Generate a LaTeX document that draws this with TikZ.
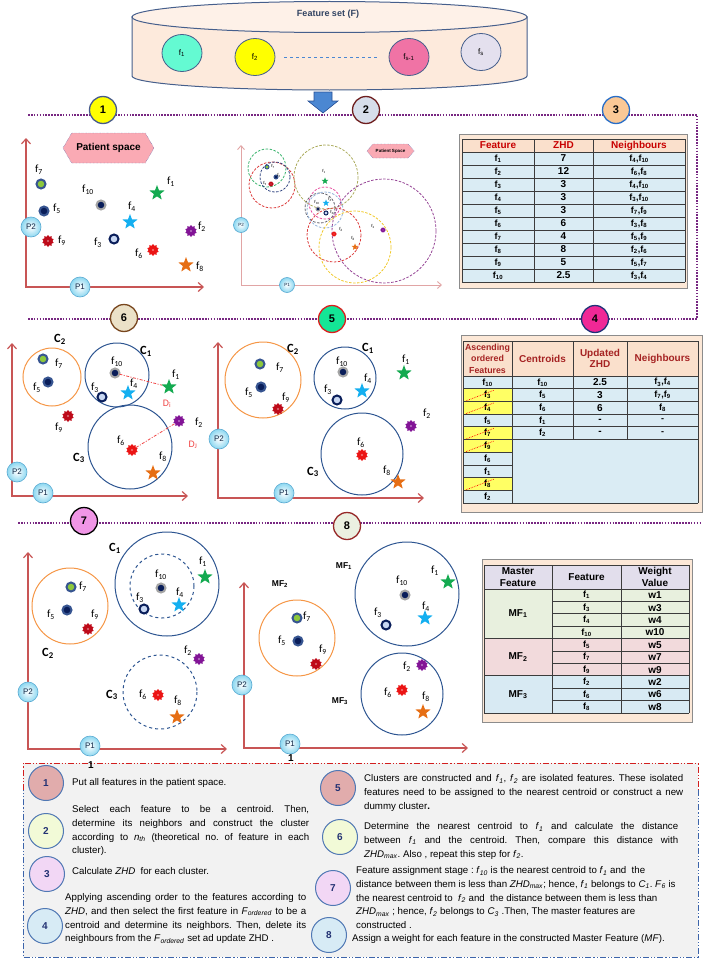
\documentclass[tikz,border=0pt]{standalone}
\usepackage{fontspec}
\setmainfont{Liberation Sans}
\newfontfamily\carlito{Carlito}
\usetikzlibrary{arrows.meta, shapes.geometric, shapes.symbols}
\frenchspacing

\definecolor{dotPurple}{RGB}{120,40,130}
\definecolor{cylFill}{RGB}{253,234,220}
\definecolor{cylTop}{RGB}{254,241,232}
\definecolor{cylLine}{RGB}{70,95,140}
\definecolor{fOne}{RGB}{100,250,210}
\definecolor{fTwo}{RGB}{255,255,0}
\definecolor{fSm}{RGB}{240,115,165}
\definecolor{fS}{RGB}{228,224,238}
\definecolor{arrowBlue}{RGB}{75,135,210}
\definecolor{arrowEdge}{RGB}{40,80,150}
\definecolor{axisRed}{RGB}{200,85,85}
\definecolor{axisPink}{RGB}{225,165,165}
\definecolor{bubCyan}{RGB}{140,215,240}
\definecolor{bubEdge}{RGB}{90,170,210}
\definecolor{bubText}{RGB}{20,40,70}
\definecolor{hexPink}{RGB}{250,170,180}
\definecolor{hexEdge}{RGB}{60,80,160}
\definecolor{ringBlue}{RGB}{55,85,145}
\definecolor{navyDot}{RGB}{10,30,90}
\definecolor{limeFill}{RGB}{140,200,60}
\definecolor{grayRing}{RGB}{165,165,165}
\definecolor{paleBlue}{RGB}{200,215,242}
\definecolor{starGreen}{RGB}{20,170,80}
\definecolor{starSky}{RGB}{20,175,240}
\definecolor{starOrange}{RGB}{230,110,20}
\definecolor{gearRed}{RGB}{235,20,20}
\definecolor{gearDark}{RGB}{190,10,25}
\definecolor{gearPurple}{RGB}{130,20,150}
\definecolor{clOrange}{RGB}{245,150,70}
\definecolor{clBlue}{RGB}{45,85,145}
\definecolor{distRed}{RGB}{240,70,70}
\definecolor{tabPeach}{RGB}{252,232,215}
\definecolor{tabHead}{RGB}{250,224,204}
\definecolor{tabBlue}{RGB}{218,236,244}
\definecolor{tabBorder}{RGB}{140,140,140}
\definecolor{tabLine}{RGB}{60,60,60}
\definecolor{tabRed}{RGB}{200,0,0}
\definecolor{tabDark}{RGB}{165,35,35}
\definecolor{tabYellow}{RGB}{255,255,100}
\definecolor{mfHead}{RGB}{226,222,236}
\definecolor{mfOne}{RGB}{232,240,222}
\definecolor{mfTwo}{RGB}{242,218,220}
\definecolor{mfThree}{RGB}{216,234,243}
\definecolor{legGray}{RGB}{242,242,242}
\definecolor{legRed}{RGB}{210,30,30}
\definecolor{legBlue}{RGB}{60,100,170}
\definecolor{legEdge}{RGB}{80,120,180}
\definecolor{legNum}{RGB}{35,50,115}
\definecolor{legA}{RGB}{225,172,172}
\definecolor{legB}{RGB}{242,250,215}
\definecolor{legC}{RGB}{242,215,245}
\definecolor{legD}{RGB}{215,235,245}
\definecolor{dGreen}{RGB}{60,180,110}
\definecolor{dRed}{RGB}{220,60,60}
\definecolor{dNavy}{RGB}{50,70,130}
\definecolor{dOlive}{RGB}{170,170,90}
\definecolor{dPink}{RGB}{230,80,160}
\definecolor{dGray}{RGB}{100,100,110}
\definecolor{dSky}{RGB}{150,180,220}
\definecolor{dYellow}{RGB}{240,200,40}
\definecolor{dPurple}{RGB}{150,70,150}
\definecolor{sOne}{RGB}{255,255,0}
\definecolor{sOneE}{RGB}{70,90,140}
\definecolor{sTwo}{RGB}{215,222,235}
\definecolor{sTwoE}{RGB}{110,30,30}
\definecolor{sThree}{RGB}{250,200,150}
\definecolor{sThreeE}{RGB}{40,110,200}
\definecolor{sFour}{RGB}{240,40,150}
\definecolor{sFourE}{RGB}{30,50,120}
\definecolor{sFive}{RGB}{20,230,150}
\definecolor{sFiveE}{RGB}{220,30,30}
\definecolor{sSix}{RGB}{235,225,200}
\definecolor{sSixE}{RGB}{120,70,30}
\definecolor{sSeven}{RGB}{240,150,230}
\definecolor{sEight}{RGB}{235,240,225}
\definecolor{sEightE}{RGB}{150,40,40}

\newcommand{\fsub}[1]{f\textsubscript{#1}}
\newcommand{\itsub}[2]{\textit{#1}\textsubscript{\textit{#2}}}
\def\mkf{1}

\begin{document}
\begin{tikzpicture}[x=1pt, y=-1pt,
    sepline/.style={dotPurple, line width=1.6pt, dash pattern=on 1.6pt off 1.3pt},
    stepnum/.style={circle, draw, line width=1.3pt, minimum size=27pt, inner sep=0pt,
                    font=\bfseries\fontsize{11}{11}\selectfont},
    fcirc/.style={ellipse, draw=cylLine, line width=0.8pt, minimum width=40pt,
                  minimum height=37pt, inner sep=0pt, font=\fontsize{8}{8}\selectfont},
    axisline/.style={axisRed, line width=1.2pt},
    axislight/.style={axisPink, line width=0.9pt},
    pball/.style={circle, draw=bubEdge, line width=0.6pt, inner color=white,
                  outer color=bubCyan, minimum size=20pt, inner sep=0pt,
                  font=\fontsize{8}{8}\selectfont, text=bubText},
    pballsm/.style={pball, minimum size=15pt, font=\fontsize{4.5}{5}\selectfont},
    hexbox/.style={signal, signal to=west and east, draw=hexEdge, densely dotted,
                   fill=hexPink, inner sep=0pt, font=\bfseries\fontsize{10}{10}\selectfont},
    feat/.style={inner sep=0pt, outer sep=0pt},
    ringmk/.style={feat, circle, minimum size=\mkf*9pt, line width=\mkf*2pt},
    starmk/.style={feat, star, star points=5, star point ratio=2.4, minimum size=\mkf*16pt},
    gearmk/.style={feat, star, star points=10, star point ratio=1.35, minimum size=\mkf*12pt,
                   path picture={\fill[white, opacity=0.45] (path picture bounding box.center)
                   circle[radius=\mkf*1.2pt];}},
    feat1/.style={starmk, fill=starGreen},
    feat2/.style={gearmk, fill=gearPurple},
    feat3/.style={ringmk, draw=navyDot, fill=paleBlue},
    feat4/.style={starmk, fill=starSky},
    feat5/.style={ringmk, draw=ringBlue, fill=navyDot},
    feat6/.style={gearmk, fill=gearRed},
    feat7/.style={ringmk, draw=ringBlue, fill=limeFill},
    feat8/.style={starmk, fill=starOrange},
    feat9/.style={gearmk, fill=gearDark},
    feat10/.style={ringmk, draw=grayRing, fill=navyDot},
    flab/.style={font=\carlito\fontsize{11}{12}\selectfont, inner sep=0pt},
    tinylab/.style={font=\carlito\fontsize{4.5}{5}\selectfont, inner sep=0pt},
    clab/.style={font=\carlito\bfseries\fontsize{12.5}{13}\selectfont, inner sep=0pt},
    mflab/.style={font=\bfseries\fontsize{8.5}{9}\selectfont, inner sep=0pt},
    dlab/.style={font=\carlito\fontsize{10}{10}\selectfont, text=distRed, inner sep=0pt},
    corange/.style={draw=clOrange, line width=1pt},
    cblue/.style={draw=clBlue, line width=1pt},
    cbluedash/.style={cblue, dashed},
    distline/.style={distRed, line width=0.8pt, dash pattern=on 3pt off 1.5pt on 1pt off 1.5pt},
    thead/.style={font=\bfseries\fontsize{10}{11.5}\selectfont, text=tabRed, align=center, inner sep=0pt},
    tcell/.style={font=\bfseries\fontsize{9}{10}\selectfont, inner sep=0pt},
    rowline/.style={tabLine, line width=0.8pt},
    strike/.style={red, line width=0.7pt, densely dotted},
    legnum/.style={circle, draw=legEdge, line width=1pt, minimum size=35pt, inner sep=0pt,
                   font=\bfseries\fontsize{10}{10}\selectfont, text=legNum},
    legtext/.style={anchor=north west, inner sep=0pt, font=\fontsize{9.7}{13.7}\selectfont}
  ]
  \useasboundingbox (0,0) rectangle (709,958);

  % feature set cylinder
  \filldraw[fill=cylFill, draw=cylLine, line width=1pt] (132,17) -- (132,76)
    arc[start angle=180, end angle=0, x radius=197.5, y radius=14] -- (527,17) -- cycle;
  \filldraw[fill=cylTop, draw=cylLine, line width=1pt] (329.5,17) ellipse[x radius=197.5, y radius=15.5];
  \node[font=\bfseries\fontsize{9}{9}\selectfont, text=cylLine!70!black] (fset) at (328,14) {Feature set (F)};
  \node[fcirc, fill=fOne] (fone) at (182,53) {\fsub{1}};
  \node[fcirc, fill=fTwo] (ftwo) at (255,57) {\fsub{2}};
  \node[fcirc, fill=fSm] (fsm) at (409,57) {\fsub{s-1}};
  \node[fcirc, fill=fS] (fs) at (481,52) {\fsub{s}};
  \draw[arrowBlue, dashed, line width=0.9pt, shorten <=9pt, shorten >=12pt] (ftwo) -- (fsm);
  \filldraw[fill=arrowBlue, draw=arrowEdge, line width=0.6pt] (314,92) -- (332,92) -- (332,101)
    -- (338,101) -- (323,113) -- (308,101) -- (314,101) -- cycle;

  % separators
  \draw[sepline] (28,115) -- (697,115) -- (697,318);
  \draw[sepline] (28,319) -- (697,319);
  \draw[sepline] (18,523) -- (700,523);
  \node[stepnum, fill=sOne, draw=sOneE] (sa) at (103,110) {1};
  \node[stepnum, fill=sTwo, draw=sTwoE] (sb) at (366,110) {2};
  \node[stepnum, fill=sThree, draw=sThreeE] (sc) at (616,110) {3};
  \node[stepnum, fill=sFour, draw=sFourE] (sd) at (595,319) {4};
  \node[stepnum, fill=sFive, draw=sFiveE] (se) at (332,319) {5};
  \node[stepnum, fill=sSix, draw=sSixE] (sf) at (124,318) {6};
  \node[stepnum, fill=sSeven, draw=black] (sg) at (84,521) {7};
  \node[stepnum, fill=sEight, draw=sEightE] (sh) at (347,526) {8};

  % panel 1: patient space
  \draw[axisline, {Straight Barb[length=5pt, width=9pt]}-{Straight Barb[length=5pt, width=9pt]}]
    (26,138) -- (26,287) -- (204,287);
  \node[pball] (pa2) at (31,227) {P2};
  \node[pball] (pa1) at (80,287) {P1};
  \node[hexbox, minimum width=91pt, minimum height=30pt, signal pointer angle=120] (hexa) at (108.5,148) {Patient space};
  \foreach \k/\x/\y/\lx/\ly in {1/157/193/171/182, 2/191/231/202/227, 3/114/239/98/243,
      4/130/222/132/207, 5/44/211/57/209, 6/153/250/139/254, 7/41/184/39/170,
      8/186/265/200/267, 9/48/241/62/241, 10/101/205/88/190}{
    \node[feat\k] (pa\k) at (\x,\y) {};
    \node[flab] (pal\k) at (\lx,\ly) {\fsub{\k}};
  }

  % panel 2: clusters per centroid
  \draw[axislight, {Straight Barb[length=4pt, width=7pt]}-{Straight Barb[length=4pt, width=7pt]}]
    (241,145) -- (241,285) -- (442,285);
  \node[pballsm] (pb2) at (241,225) {P2};
  \node[pballsm] (pb1) at (287,285) {P1};
  \node[hexbox, minimum width=47pt, minimum height=14pt, signal pointer angle=100,
        font=\bfseries\fontsize{4.5}{5}\selectfont] (hexb) at (390.5,151) {Patient Space};
  \foreach \cx/\cy/\r/\c in {267/168/19/dGreen, 272/185/23/dRed, 275/177/15/dNavy,
      326/177/32/dOlive, 325/203/16/dPink, 320/208/15/dGray, 325/210/18/dSky,
      334/235/27/dRed, 355/247/36/dYellow, 384/231/52/dPurple}
    \draw[draw=\c, line width=0.8pt, dash pattern=on 2.5pt off 1.5pt] (\cx,\cy) circle[radius=\r];
  \begin{scope}
    \def\mkf{0.45}
    \foreach \k/\x/\y/\lx/\ly in {1/325/181/324/171, 2/383/230/373/226, 3/326/213/332/212,
        4/326/203/330/199, 5/276/177/279/175, 6/334/234/341/229, 7/267/167/273/166,
        8/355/247/353/238, 9/271/184/265/183, 10/318/209/317/202}{
      \node[feat\k] (pb\k) at (\x,\y) {};
      \node[tinylab] (pbl\k) at (\lx,\ly) {\fsub{\k}};
    }
  \end{scope}

  % panel 3: ZHD table
  \filldraw[fill=tabPeach, draw=tabBorder, line width=0.8pt] (459,134) rectangle (687,288);
  \fill[tabHead] (462,139) rectangle (685,152);
  \fill[tabBlue] (462,152) rectangle (685,282);
  \foreach \r in {0,...,10}
    \draw[rowline] (462,{152+13*\r}) -- (685,{152+13*\r});
  \draw[rowline] (462,139) -- (685,139);
  \foreach \cx in {462,534,593,685}
    \draw[rowline] (\cx,139) -- (\cx,282);
  \node[thead] (tha) at (498,145.5) {Feature};
  \node[thead] (thb) at (563.5,145.5) {ZHD};
  \node[thead] (thc) at (639,145.5) {Neighbours};
  \foreach \i/\z/\na/\nb in {1/7/4/10, 2/12/6/8, 3/3/4/10, 4/3/3/10, 5/3/7/9, 6/6/3/8,
      7/4/5/9, 8/8/2/6, 9/5/5/7, 10/2.5/3/4}{
    \node[tcell] (tfa\i) at (498,{145.5+13*\i}) {\fsub{\i}};
    \node[tcell, font=\bfseries\fontsize{10}{10}\selectfont] (tfb\i) at (563.5,{145.5+13*\i}) {\z};
    \node[tcell] (tfc\i) at (639,{145.5+13*\i}) {\fsub{\na},\fsub{\nb}};
  }

  % panel 6: distances of isolated features
  \draw[axisline, {Straight Barb[length=5pt, width=9pt]}-{Straight Barb[length=5pt, width=9pt]}]
    (12,343) -- (12,496) -- (188,496);
  \node[pball] (pf2) at (17,472) {P2};
  \node[pball] (pf1) at (43,493) {P1};
  \draw[corange] (52,377) circle[radius=29];
  \draw[cblue] (117,375) circle[radius=32];
  \draw[cblue] (130,447) circle[radius=42];
  \node[clab] (cfb) at (60,339) {C\textsubscript{2}};
  \node[clab] (cfa) at (146,351) {C\textsubscript{1}};
  \node[clab] (cfc) at (79,458) {C\textsubscript{3}};
  \foreach \k/\x/\y/\lx/\ly in {1/169/387/176/375, 2/179/421/199/423, 3/102/397/95/388,
      4/128/393/134/384, 5/48/382/37/388, 6/132/450/121/441, 7/43/359/59/364,
      8/153/473/163/457, 9/68/416/59/428, 10/115/373/117/362}{
    \node[feat\k] (pf\k) at (\x,\y) {};
    \node[flab] (pfl\k) at (\lx,\ly) {\fsub{\k}};
  }
  \draw[distline] (pf10) -- (pf1);
  \draw[distline] (pf6) -- (pf2);
  \node[dlab] (dfi) at (167,404) {D\textsubscript{i}};
  \node[dlab] (dfj) at (193,445) {D\textsubscript{J}};

  % panel 5: constructed clusters
  \draw[axisline, {Straight Barb[length=5pt, width=9pt]}-{Straight Barb[length=5pt, width=9pt]}]
    (218,342) -- (218,498) -- (424,498);
  \node[pball] (pe2) at (219,439) {P2};
  \node[pball] (pe1) at (284,493) {P1};
  \draw[corange] (263,380) circle[radius=38];
  \draw[cblue] (345,378) circle[radius=31];
  \draw[cblue] (362,454) circle[radius=41];
  \node[clab] (ceb) at (293,349) {C\textsubscript{2}};
  \node[clab] (cea) at (368,348) {C\textsubscript{1}};
  \node[clab] (cec) at (313,472) {C\textsubscript{3}};
  \foreach \k/\x/\y/\lx/\ly in {1/404/373/406/360, 2/411/426/427/414, 3/337/400/328/390,
      4/362/391/368/379, 5/261/387/249/393, 6/362/455/361/443, 7/260/364/280/368,
      8/398/482/387/471, 9/278/409/286/398, 10/343/372/342/362}{
    \node[feat\k] (pe\k) at (\x,\y) {};
    \node[flab] (pel\k) at (\lx,\ly) {\fsub{\k}};
  }

  % panel 4: ordered features table
  \filldraw[fill=tabPeach, draw=tabBorder, line width=0.8pt] (461,335) rectangle (702,512);
  \fill[tabHead] (463,341) rectangle (698,376);
  \fill[tabBlue] (463,376) rectangle (698,503);
  \foreach \r in {2,3,5,6,9}{
    \fill[tabYellow] (463,{376+12.7*(\r-1)}) rectangle (512,{376+12.7*\r});
  }
  \foreach \r in {0,...,10}
    \draw[rowline] (463,{376+12.7*\r}) -- (512,{376+12.7*\r});
  \foreach \r in {0,...,5}
    \draw[rowline] (512,{376+12.7*\r}) -- (698,{376+12.7*\r});
  \draw[rowline] (463,341) -- (698,341);
  \draw[rowline] (512,503) -- (698,503);
  \foreach \cx in {463,512,698}
    \draw[rowline] (\cx,341) -- (\cx,503);
  \foreach \cx in {573,627}
    \draw[rowline] (\cx,341) -- (\cx,439.5);
  \node[thead, text=tabDark, font=\bfseries\fontsize{8.8}{11.5}\selectfont] (tga) at (487.5,358.5) {Ascending\\ordered\\Features};
  \node[thead, text=tabDark] (tgb) at (542.5,358.5) {Centroids};
  \node[thead, text=tabDark] (tgc) at (600,358.5) {Updated\\ZHD};
  \node[thead, text=tabDark] (tgd) at (662.5,358.5) {Neighbours};
  \foreach \r/\n in {1/10, 2/3, 3/4, 4/5, 5/7, 6/9, 7/6, 8/1, 9/8, 10/2}
    \node[tcell] (tga\r) at (487.5,{369.65+12.7*\r}) {\fsub{\n}};
  \foreach \r in {2,3,5,6,9}
    \draw[strike] (466,{376+12.7*\r-0.5}) -- (494,{376+12.7*(\r-1)+1.5});
  \foreach \r/\c/\z/\nb in {1/10/2.5/{\fsub{3},\fsub{4}}, 2/5/3/{\fsub{7},\fsub{9}},
      3/6/6/{\fsub{8}}, 4/1/-/-, 5/2/-/-}{
    \node[tcell] (tgb\r) at (542.5,{369.65+12.7*\r}) {\fsub{\c}};
    \node[tcell, font=\bfseries\fontsize{10}{10}\selectfont] (tgc\r) at (600,{369.65+12.7*\r}) {\z};
    \node[tcell] (tgd\r) at (662.5,{369.65+12.7*\r}) {\nb};
  }

  % legend background
  \fill[legGray] (23,763) rectangle (698,957);
  \draw[legBlue, line width=1pt, dash pattern=on 6pt off 2pt on 1.2pt off 2pt on 1.2pt off 2pt]
    (698,790) -- (698,957) -- (23,957) -- (23,790);
  \draw[legRed, line width=1pt, dash pattern=on 6pt off 2pt on 1.2pt off 2pt on 1.2pt off 2pt]
    (23,790) -- (23,763) -- (698,763) -- (698,790);

  % panel 7: feature assignment
  \draw[axisline, {Straight Barb[length=5pt, width=9pt]}-{Straight Barb[length=5pt, width=9pt]}]
    (28,552) -- (28,749) -- (227,749);
  \node[pball] (pg2) at (28,692) {P2};
  \node[pball] (pg1) at (90,746) {P1};
  \node[font=\bfseries\fontsize{10}{10}\selectfont, inner sep=0pt] (pgone) at (91,765) {1};
  \draw[corange] (70,606) circle[radius=38];
  \draw[cblue] (167,584) circle[radius=52];
  \draw[cbluedash] (162,586) circle[radius=32];
  \draw[cbluedash] (160,692) circle[radius=37];
  \node[clab] (cga) at (115,548) {C\textsubscript{1}};
  \node[clab] (cgb) at (48,653) {C\textsubscript{2}};
  \node[clab] (cgc) at (112,695) {C\textsubscript{3}};
  \foreach \k/\x/\y/\lx/\ly in {1/205/577/203/562, 2/199/659/188/651, 3/144/609/140/598,
      4/179/605/180/593, 5/67/610/51/615, 6/158/695/143/695, 7/71/587/83/587,
      8/177/717/178/701, 9/88/629/95/615, 10/161/588/161/575}{
    \node[feat\k] (pg\k) at (\x,\y) {};
    \node[flab] (pgl\k) at (\lx,\ly) {\fsub{\k}};
  }

  % panel 8: master features
  \draw[axisline, {Straight Barb[length=5pt, width=9pt]}-{Straight Barb[length=5pt, width=9pt]}]
    (244,582) -- (244,748) -- (468,748);
  \node[pball] (ph2) at (242,685) {P2};
  \node[pball] (ph1) at (290,744) {P1};
  \node[font=\bfseries\fontsize{10}{10}\selectfont, inner sep=0pt] (phone) at (291,758) {1};
  \draw[corange] (297,638) circle[radius=38];
  \draw[cblue] (407,594) circle[radius=52];
  \draw[cblue] (402,694) circle[radius=41];
  \node[mflab] (mfb) at (280,584) {MF\textsubscript{2}};
  \node[mflab] (mfa) at (344,566) {MF\textsubscript{1}};
  \node[mflab] (mfc) at (340,701) {MF\textsubscript{3}};
  \foreach \k/\x/\y/\lx/\ly in {1/448/582/435/571, 2/422/665/407/667, 3/386/625/378/613,
      4/425/618/426/607, 5/298/641/282/641, 6/402/690/388/693, 7/297/618/307/617,
      8/423/712/426/697, 9/316/664/323/650, 10/405/595/402/581}{
    \node[feat\k] (ph\k) at (\x,\y) {};
    \node[flab] (phl\k) at (\lx,\ly) {\fsub{\k}};
  }

  % master feature table
  \filldraw[fill=tabPeach, draw=tabBorder, line width=0.8pt] (482,559) rectangle (692,722);
  \fill[mfHead] (484,565) rectangle (689,589);
  \fill[mfOne] (484,589) rectangle (689,638.6);
  \fill[mfTwo] (484,638.6) rectangle (689,675.8);
  \fill[mfThree] (484,675.8) rectangle (689,713);
  \foreach \r in {0,...,10}
    \draw[rowline] (552,{589+12.4*\r}) -- (689,{589+12.4*\r});
  \foreach \yy in {565,589,638.6,675.8,713}
    \draw[rowline] (484,\yy) -- (689,\yy);
  \foreach \cx in {484,552,621,689}
    \draw[rowline] (\cx,565) -- (\cx,713);
  \node[thead, text=black] (tma) at (518,577) {Master\\Feature};
  \node[thead, text=black] (tmb) at (586.5,577) {Feature};
  \node[thead, text=black] (tmc) at (655,577) {Weight\\Value};
  \node[tcell, font=\bfseries\fontsize{10}{10}\selectfont] (tmg1) at (518,613.8) {MF\textsubscript{1}};
  \node[tcell, font=\bfseries\fontsize{10}{10}\selectfont] (tmg2) at (518,657.2) {MF\textsubscript{2}};
  \node[tcell, font=\bfseries\fontsize{10}{10}\selectfont] (tmg3) at (518,694.4) {MF\textsubscript{3}};
  \foreach \r/\n in {1/1, 2/3, 3/4, 4/10, 5/5, 6/7, 7/9, 8/2, 9/6, 10/8}{
    \node[tcell] (tmf\r) at (586.5,{582.8+12.4*\r}) {\fsub{\n}};
    \node[tcell, font=\bfseries\fontsize{10}{10}\selectfont] (tmw\r) at (655,{582.8+12.4*\r}) {w\n};
  }

  % legend steps
  \foreach \n/\x/\y/\c in {1/46/783/legA, 2/46/831/legB, 3/47/874/legC, 4/45/926/legD,
      5/338/788/legA, 6/340/837/legB, 7/333/888/legC, 8/329/935/legD}
    \node[legnum, fill=\c] (lc\n) at (\x,\y) {\n};
  \node[legtext] (lt1) at (72,778.5) {Put all features in the patient space.};
  \node[legtext, text width=237pt, align=justify] (lt2) at (72,805.5)
    {Select each feature to be a centroid. Then,\linebreak
     determine its neighbors and construct the cluster\linebreak
     according to \itsub{n}{th} (theoretical no. of feature in each\linebreak
     cluster).};
  \node[legtext] (lt3) at (72,867.5) {Calculate \textit{ZHD}~ for each cluster.};
  \node[legtext, text width=241pt, align=justify] (lt4) at (65,893.5)
    {Applying ascending order to the features according to\linebreak
     \textit{ZHD}, and then select the first feature in \itsub{F}{ordered} to be a\linebreak
     centroid and determine its neighbors. Then, delete its\linebreak
     neighbours from the \itsub{F}{ordered} set ad update ZHD .};
  \node[legtext, text width=319pt, align=justify] (lt5) at (364,774.5)
    {Clusters are constructed and \itsub{f}{1}, \itsub{f}{2} are isolated features. These isolated\linebreak
     features need to be assigned to the nearest centroid or construct a new\linebreak
     dummy cluster\textbf{.}};
  \node[legtext, text width=314pt, align=justify] (lt6) at (364,822.5)
    {Determine the nearest centroid to \itsub{f}{1} and calculate the distance\linebreak
     between \itsub{f}{1} and the centroid. Then, compare this distance with\linebreak
     \itsub{ZHD}{max}. Also , repeat this step for \itsub{f}{2}.};
  \node[legtext, align=left] (lt7) at (356,866.5)
    {Feature assignment stage : \itsub{f}{10} is the nearest centroid to \itsub{f}{1} and~ the\\
     distance between them is less than \itsub{ZHD}{max}; hence, \itsub{f}{1} belongs to \itsub{C}{1}. \itsub{F}{6} is\\
     the nearest centroid to~ \itsub{f}{2} and~ the distance between them is less than\\
     \itsub{ZHD}{max} ; hence, \itsub{f}{2} belongs to \itsub{C}{3} .Then, The master features are\\
     constructed .};
  \node[legtext] (lt8) at (352,934.5)
    {Assign a weight for each feature in the constructed Master Feature (\textit{MF}).};
\end{tikzpicture}
\end{document}
